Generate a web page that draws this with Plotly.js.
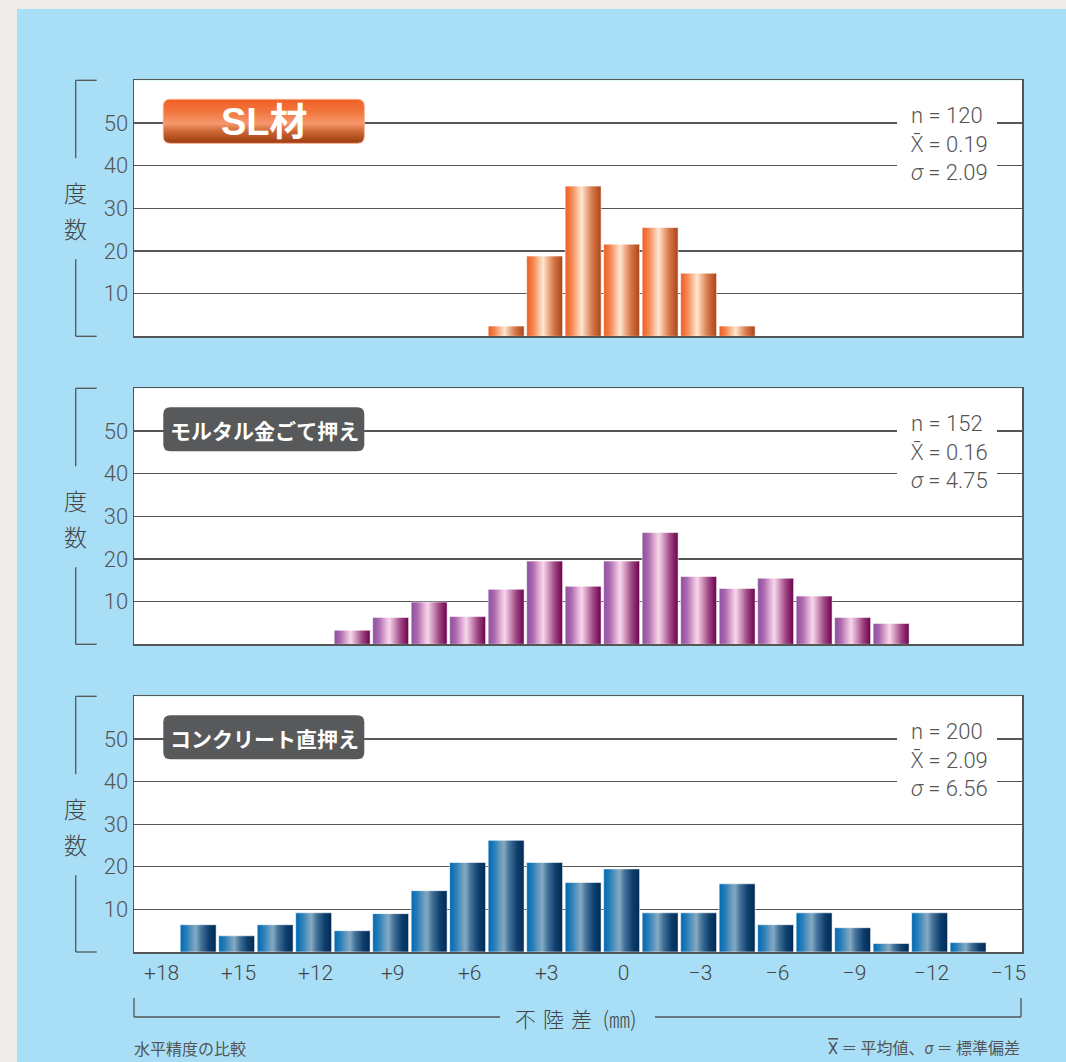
<!DOCTYPE html>
<html><head><meta charset="utf-8">
<script src="https://cdn.plot.ly/plotly-3.0.1.min.js"></script>
<style>
html,body{margin:0;padding:0;background:#edecea;width:1066px;height:1062px;overflow:hidden}
#chart{position:absolute;left:17px;top:9px;width:1049px;height:1053px}
</style></head><body><div id="chart"></div>
<script>
// ---------- data ----------
const tickVals = [18, 15, 12, 9, 6, 3, 0, -3, -6, -9, -12, -15];
const tickText = ['+18', '+15', '+12', '+9', '+6', '+3', '0', '−3', '−6', '−9', '−12', '−15'];
const yTickVals = [10, 20, 30, 40, 50];

const slX = [4.5, 3, 1.5, 0, -1.5, -3, -4.5];
const slY = [2.4, 18.8, 35.2, 21.6, 25.5, 14.8, 2.4];

const mortarX = [10.5, 9, 7.5, 6, 4.5, 3, 1.5, 0, -1.5, -3, -4.5, -6, -7.5, -9, -10.5];
const mortarY = [3.3, 6.3, 9.9, 6.5, 12.9, 19.5, 13.6, 19.5, 26.2, 15.9, 13.1, 15.5, 11.3, 6.3, 4.9];

const concreteX = [16.5, 15, 13.5, 12, 10.5, 9, 7.5, 6, 4.5, 3, 1.5, 0, -1.5, -3, -4.5, -6, -7.5, -9, -10.5, -12, -13.5];
const concreteY = [6.4, 3.8, 6.4, 9.2, 5.0, 9.0, 14.4, 21.0, 26.2, 21.0, 16.3, 19.5, 9.2, 9.2, 16.0, 6.4, 9.2, 5.7, 2.0, 9.2, 2.2];

const panelNames = ['SL材', 'モルタル金ごて押え', 'コンクリート直押え'];
const statN = ['120', '152', '200'];
const statMean = ['0.19', '0.16', '2.09'];
const statSigma = ['2.09', '4.75', '6.56'];

// ---------- layout helpers (page pixels -> paper) ----------
const L = 134, R = 1022, T = 80, B = 952;
const W = R - L, H = B - T;
const px = x => (x - L) / W;
const py = y => (B - y) / H;
const panelTop = [80.3, 388.3, 696.3];
const panelBot = [336.3, 644.3, 952];

const numFont = 'Roboto, "Noto Sans", sans-serif';
const jpFont = '"Noto Sans CJK JP", sans-serif';
const mixFont = 'Roboto, "Noto Sans CJK JP", sans-serif';

const series = [[slX, slY], [mortarX, mortarY], [concreteX, concreteY]];
const fallback = ['#ef7a45', '#b068a8', '#2a6fa8'];

const traces = series.map((s, i) => ({
  type: 'bar', x: s[0], y: s[1], width: 1.4,
  xaxis: i === 0 ? 'x' : 'x' + (i + 1), yaxis: i === 0 ? 'y' : 'y' + (i + 1),
  marker: {color: fallback[i], line: {width: 0.8, color: 'rgba(255,255,255,0.7)'}},
  hoverinfo: 'skip', showlegend: false
}));

const layout = {
  width: 1049, height: 1053,
  margin: {l: 117, r: 44, t: 71, b: 110, pad: 0},
  paper_bgcolor: '#a8dff7', plot_bgcolor: '#ffffff',
  barmode: 'overlay', showlegend: false,
  font: {family: numFont, color: '#4a4a4a'},
  shapes: [], annotations: []
};

for (let i = 0; i < 3; i++) {
  const sfx = i === 0 ? '' : String(i + 1);
  const dom = [py(panelBot[i]), py(panelTop[i])];
  layout['xaxis' + sfx] = {
    domain: [0, 1], anchor: 'y' + sfx, range: [19, -15.6], fixedrange: true,
    showgrid: false, zeroline: false, showline: true, mirror: true,
    linecolor: '#555', linewidth: 1.5, ticks: '',
    tickvals: tickVals, ticktext: tickText, showticklabels: i === 2,
    tickfont: {family: numFont, size: 21, color: '#444', weight: 300},
    ticklabelstandoff: 1, ticklabelshift: -2
  };
  layout['yaxis' + sfx] = {
    domain: dom, anchor: 'x' + sfx, range: [0, 60], fixedrange: true,
    showgrid: true, gridcolor: '#555', gridwidth: 1.2, zeroline: false,
    showline: true, mirror: true, linecolor: '#555', linewidth: 1.5, ticks: '',
    tickvals: yTickVals, tickfont: {family: numFont, size: 22, color: '#555', weight: 300},
    ticklabelstandoff: 0
  };

  const t = panelTop[i], b = panelBot[i];
  // 度数 bracket
  const bx = 75.7, bx2 = 96.7;
  const line = {color: '#555', width: 1.3};
  layout.shapes.push(
    {type: 'line', xref: 'paper', yref: 'paper', x0: px(bx), x1: px(bx2), y0: py(t), y1: py(t), line},
    {type: 'line', xref: 'paper', yref: 'paper', x0: px(bx), x1: px(bx), y0: py(t), y1: py(t + 78), line},
    {type: 'line', xref: 'paper', yref: 'paper', x0: px(bx), x1: px(bx), y0: py(t + 179), y1: py(b), line},
    {type: 'line', xref: 'paper', yref: 'paper', x0: px(bx), x1: px(bx2), y0: py(b), y1: py(b), line}
  );
  layout.annotations.push(
    {xref: 'paper', yref: 'paper', x: px(bx), y: py(t + 111.5), text: '度', showarrow: false,
     xanchor: 'center', yanchor: 'middle', font: {family: jpFont, size: 23, color: '#444', weight: 300}},
    {xref: 'paper', yref: 'paper', x: px(bx), y: py(t + 147.5), text: '数', showarrow: false,
     xanchor: 'center', yanchor: 'middle', font: {family: jpFont, size: 23, color: '#444', weight: 300}}
  );

  // stats white box + text
  layout.shapes.push({type: 'rect', xref: 'paper', yref: 'paper', layer: 'above',
    x0: px(897), x1: px(997), y0: py(t + 17), y1: py(t + 110),
    fillcolor: '#ffffff', line: {width: 0}});
  layout.annotations.push({xref: 'paper', yref: 'paper', x: px(909), y: py(t + 64),
    xanchor: 'left', yanchor: 'middle', align: 'left', showarrow: false,
    text: 'n = ' + statN[i] + '<br>X\u0304 = ' + statMean[i] + '<br><i>σ</i> = ' + statSigma[i],
    font: {family: numFont, size: 22, color: '#555', weight: 300}});

  // label box (rounded)
  const bw = 201, bh = 44, r = 7;
  const hw = bw / 2, hh = bh / 2;
  const path = `M ${-hw + r},${hh} L ${hw - r},${hh} Q ${hw},${hh} ${hw},${hh - r} L ${hw},${-hh + r} Q ${hw},${-hh} ${hw - r},${-hh} L ${-hw + r},${-hh} Q ${-hw},${-hh} ${-hw},${-hh + r} L ${-hw},${hh - r} Q ${-hw},${hh} ${-hw + r},${hh} Z`;
  layout.shapes.push({type: 'path', xref: 'paper', yref: 'paper', layer: 'above',
    xsizemode: 'pixel', ysizemode: 'pixel', xanchor: px(263.8), yanchor: py(t + 41),
    path: path, fillcolor: i === 0 ? '#e8612a' : '#58595b',
    line: {width: i === 0 ? 1 : 0, color: '#f3b08c'}, name: 'labelbox' + i});
  layout.annotations.push({xref: 'paper', yref: 'paper', x: px(264), y: py(t + 41.5),
    xanchor: 'center', yanchor: 'middle', showarrow: false, text: '<b>' + panelNames[i] + '</b>',
    font: i === 0 ? {family: 'Arial, "Liberation Sans", ' + jpFont, size: 38, color: '#ffffff', weight: 700}
                  : {family: jpFont, size: 21, color: '#ffffff', weight: 700}});
}

// bottom bracket 不陸差
const lb = {color: '#555', width: 1.3};
layout.shapes.push(
  {type: 'line', xref: 'paper', yref: 'paper', x0: px(134), x1: px(134), y0: py(998), y1: py(1017), line: lb},
  {type: 'line', xref: 'paper', yref: 'paper', x0: px(134), x1: px(500), y0: py(1017), y1: py(1017), line: lb},
  {type: 'line', xref: 'paper', yref: 'paper', x0: px(655), x1: px(1021), y0: py(1017), y1: py(1017), line: lb},
  {type: 'line', xref: 'paper', yref: 'paper', x0: px(1021), x1: px(1021), y0: py(998), y1: py(1017), line: lb}
);
layout.annotations.push(
  {xref: 'paper', yref: 'paper', x: px(513), y: py(1018), xanchor: 'left', yanchor: 'middle',
   showarrow: false, text: '不\u2004陸\u2004差\u2002(㎜)', font: {family: jpFont, size: 21, color: '#444', weight: 300}},
  {xref: 'paper', yref: 'paper', x: px(132), y: py(1048), xanchor: 'left', yanchor: 'middle',
   showarrow: false, text: '水平精度の比較', font: {family: jpFont, size: 16, color: '#555'}},
  {xref: 'paper', yref: 'paper', x: px(1022), y: py(1048), xanchor: 'right', yanchor: 'middle',
   showarrow: false, text: '<span style="text-decoration:overline">X</span>\u2009＝\u2009平均値、<i>σ</i>\u2009＝\u2009標準偏差',
   font: {family: mixFont, size: 16, color: '#555'}}
);

const gradStops = [
  [[0, '#ee5c20'], [0.18, '#f48650'], [0.36, '#fbc6a2'], [0.46, '#fee7d4'], [0.58, '#f1b692'], [0.76, '#d57648'], [1, '#ab4419']],
  [[0, '#8c4e9e'], [0.18, '#ad6cb0'], [0.36, '#e3b2d6'], [0.46, '#f6d7ea'], [0.58, '#d8a2c6'], [0.78, '#9e4682'], [1, '#6c004e']],
  [[0, '#0068b3'], [0.18, '#2a80b9'], [0.36, '#6e9ebf'], [0.44, '#84a9bf'], [0.58, '#44739a'], [0.8, '#0f3f6d'], [1, '#002a55']]
];
const boxStops = [[0, '#f15e24'], [0.3, '#f27840'], [0.55, '#f6976c'], [0.72, '#cf6a36'], [1, '#9a3a0f']];

Plotly.newPlot('chart', traces, layout, {staticPlot: true, displayModeBar: false}).then(gd => {
  const NS = 'http://www.w3.org/2000/svg';
  const svg = gd.querySelector('svg.main-svg');
  let defs = svg.querySelector('defs');
  if (!defs) { defs = document.createElementNS(NS, 'defs'); svg.insertBefore(defs, svg.firstChild); }
  function addGrad(id, stops, vertical) {
    const g = document.createElementNS(NS, 'linearGradient');
    g.setAttribute('id', id);
    g.setAttribute('x1', '0'); g.setAttribute('y1', '0');
    g.setAttribute('x2', vertical ? '0' : '1'); g.setAttribute('y2', vertical ? '1' : '0');
    stops.forEach(([o, c]) => {
      const s = document.createElementNS(NS, 'stop');
      s.setAttribute('offset', o); s.setAttribute('stop-color', c);
      g.appendChild(s);
    });
    defs.appendChild(g);
  }
  gradStops.forEach((st, i) => addGrad('barGrad' + i, st, false));
  addGrad('boxGrad', boxStops, true);
  gd.querySelectorAll('.barlayer .trace').forEach(tg => {
    const d = tg.__data__;
    const idx = d && d[0] && d[0].trace ? d[0].trace.index : null;
    if (idx === null) return;
    tg.querySelectorAll('path').forEach(p => { p.style.fill = 'url(#barGrad' + idx + ')'; });
  });
  const shapesArr = gd._fullLayout.shapes;
  shapesArr.forEach((s, k) => {
    if (s.name === 'labelbox0') {
      const el = gd.querySelector('.shapelayer path[data-index="' + k + '"]');
      if (el) el.style.fill = 'url(#boxGrad)';
    }
  });
});
</script>
</body></html>
